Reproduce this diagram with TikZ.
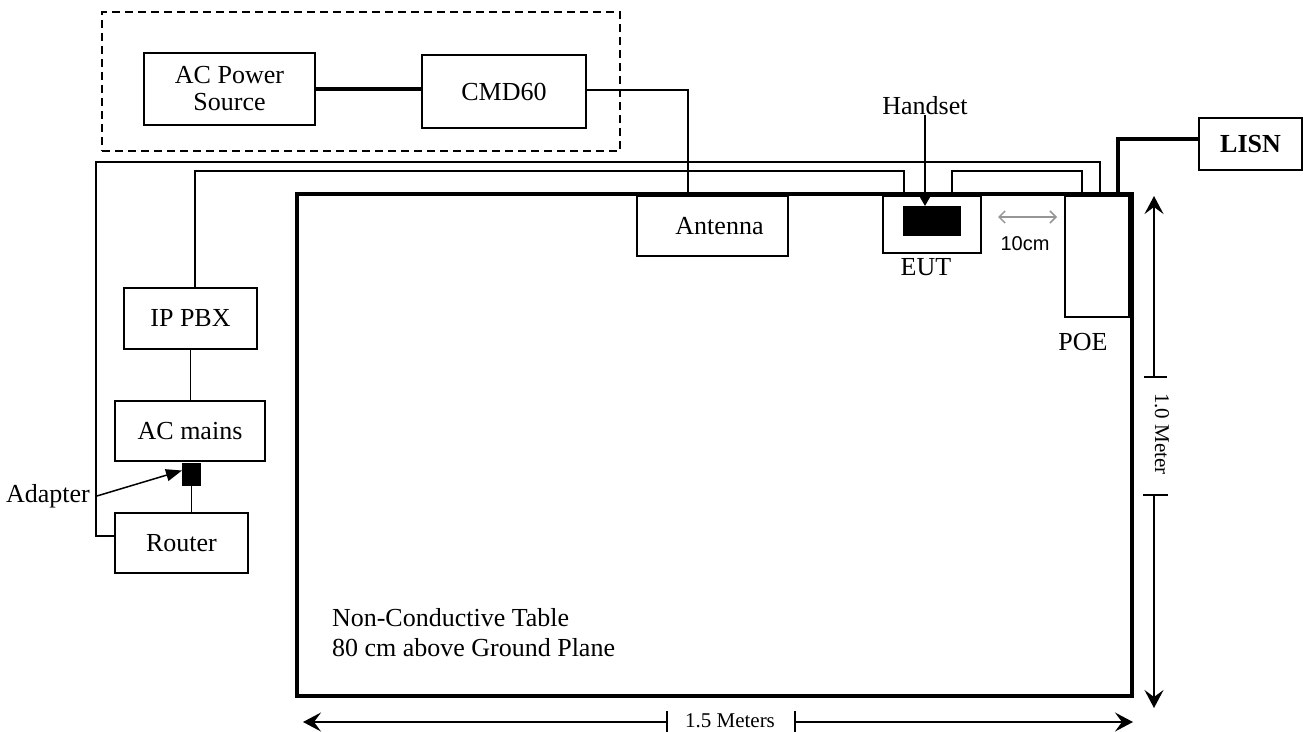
\documentclass[tikz,border=0pt]{standalone}
\usepackage{fontspec}
\setmainfont{Liberation Serif}
\newfontfamily\sansf{Liberation Sans}
\usetikzlibrary{arrows.meta}
\definecolor{tengray}{RGB}{150,150,150}
\newcommand{\lbl}{\fontsize{26}{30}\selectfont}
\newcommand{\smlbl}{\fontsize{21}{24}\selectfont}
\begin{document}
\begin{tikzpicture}[x=1pt,y=-1pt, outer sep=0pt,
  box/.style={draw, line width=1.6pt, inner sep=0pt, font=\lbl, align=center},
  wire/.style={line width=1.5pt},
  heavy/.style={line width=3.5pt},
  dim/.style={line width=1.8pt},
  dimtip/.style={-{Stealth[length=18pt,width=19pt,inset=7pt]}},
  lab/.style={font=\lbl, inner sep=0pt}]
\useasboundingbox (0,0) rectangle (1306,731);

% group (dashed)
\node[draw, dash pattern=on 8pt off 5pt, line width=1.6pt, minimum width=518, minimum height=139] (grp) at (361,81.5) {};
\node[box, minimum width=171, minimum height=72, font=\fontsize{26}{27}\selectfont] (acps) at (229.5,89) {AC Power\\Source};
\node[box, minimum width=164, minimum height=73] (cmd) at (504,91.5) {CMD60};
\node[box, minimum width=103, minimum height=52] (lisn) at (1250.5,144) {\bfseries LISN};

% table
\node[draw, line width=4pt, minimum width=835, minimum height=502, inner sep=0pt] (table) at (714.5,445) {};
\node[lab, anchor=west, align=left, font=\fontsize{26}{30}\selectfont] (tlab) at (332,633) {Non-Conductive Table\\80 cm above Ground Plane};

% equipment on table
\node[box, minimum width=151, minimum height=60] (ant) at (712.5,226) {\hspace*{14pt}Antenna};
\node[box, minimum width=98, minimum height=57] (eut) at (932,224.5) {};
\node[fill=black, minimum width=58, minimum height=30, inner sep=0pt] (hs) at (932,221) {};
\node[lab] (hslab) at (925,106) {Handset};
\node[lab] (eutlab) at (926,267) {EUT};
\node[box, minimum width=64, minimum height=121] (poe) at (1097,256.5) {};
\node[lab] (poelab) at (1083,342) {POE};
\node[font=\sansf\fontsize{20}{24}\selectfont, inner sep=0pt] (tenlab) at (1025,244) {10cm};
\coordinate (tenA) at (998,217);
\coordinate (tenB) at (1057,217);

% left column
\node[box, minimum width=133, minimum height=61] (pbx) at (190.5,318.5) {IP PBX};
\node[box, minimum width=150, minimum height=60] (mains) at (190,431) {AC mains};
\node[fill=black, minimum width=19, minimum height=23, inner sep=0pt] (adp) at (191.5,474.5) {};
\node[box, minimum width=133, minimum height=60] (router) at (181.5,543) {Router};
\node[lab] (adlab) at (48,496) {Adapter};

% connectors
\draw[heavy] (acps.east) -- (acps.east -| cmd.west);
\draw[wire] ([yshift=1.5pt]cmd.east) -| ([xshift=-24.5pt]ant.north);
\draw[wire] ([yshift=7pt]router.west) -- (96,536) -- (96,162) -| ([xshift=3pt]poe.north);
\coordinate (w2) at (904,171);
\draw[wire] ([xshift=4.5pt]pbx.north) |- (w2) -- ([xshift=-28pt]eut.north);
\draw[wire] ([xshift=20pt]eut.north) -- ++(0,-25) -| ([xshift=-15pt]poe.north);
\draw[heavy] ([xshift=21pt]poe.north) |- ([yshift=5pt]lisn.west);
\draw[wire] (pbx.south) -- (pbx.south |- mains.north);
\draw[wire] (adp.south) -- (adp.south |- router.north);
\draw[wire, -{Triangle[length=16pt,width=12pt]}] ([xshift=7pt]adlab.east) -- ([yshift=4pt]adp.west);
\draw[wire, -{Triangle[length=10pt,width=11pt]}] (hslab.south) -- (hslab.south |- hs.north);
\draw[tengray, line width=1.5pt, {Straight Barb[length=6pt,width=12pt]}-{Straight Barb[length=6pt,width=12pt]}] (tenA) -- (tenB);

% dimensions
\draw[dim, dimtip] (1154,377) -- (1154,196);
\draw[dim] (1144,377) -- (1167,377);
\node[rotate=-90, font=\smlbl, inner sep=0pt] (vlab) at (1162,434) {1.0 Meter};
\draw[dim] (1143,495) -- (1168,495);
\draw[dim, dimtip] (1154,495) -- (1154,708);
\draw[dim, dimtip] (667,722) -- (303,722);
\draw[dim] (667,711) -- (667,733);
\node[font=\smlbl, inner sep=0pt] (hlab) at (730,721) {1.5 Meters};
\draw[dim] (795,711) -- (795,733);
\draw[dim, dimtip] (795,722) -- (1133,722);
\end{tikzpicture}
\end{document}
